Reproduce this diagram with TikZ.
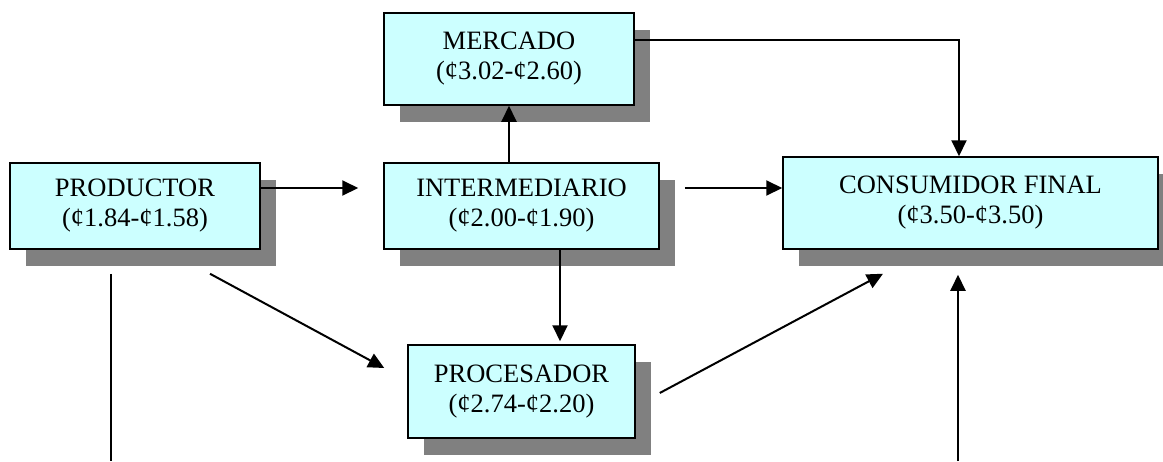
\documentclass[tikz,border=0pt]{standalone}
\usepackage{fontspec}
\setmainfont{Liberation Serif}
\usetikzlibrary{shadows,arrows.meta,calc}
\definecolor{boxfill}{RGB}{204,255,255}
\definecolor{shadowgray}{RGB}{128,128,128}
\begin{document}
\begin{tikzpicture}[x=0.5pt,y=-0.5pt,
  stage/.style={draw=black, line width=0.75pt, fill=boxfill, inner sep=0pt,
    align=center, font=\fontsize{13.25pt}{15pt}\selectfont,
    drop shadow={shadow xshift=8pt, shadow yshift=-8.5pt, fill=shadowgray, opacity=1}},
  arr/.style={line width=1pt, -{Triangle[length=8pt,width=7.5pt]}},
  link/.style={line width=0.8pt}]
\useasboundingbox (0,0) rectangle (1163,461);

% stages of the chain
\node[stage, minimum width=125pt, minimum height=46pt] (merc) at (509,59)
  {MERCADO\\(¢3.02-¢2.60)};
\node[stage, minimum width=125pt, minimum height=43pt] (prod) at (135,206)
  {PRODUCTOR\\(¢1.84-¢1.58)};
\node[stage, minimum width=137.5pt, minimum height=43pt] (inter) at (521.5,206)
  {INTERMEDIARIO\\(¢2.00-¢1.90)};
\node[stage, minimum width=187.5pt, minimum height=46pt] (cons) at (970.5,203)
  {CONSUMIDOR FINAL\\(¢3.50-¢3.50)};
\node[stage, minimum width=113.5pt, minimum height=46.5pt] (proc) at (521.5,391.5)
  {PROCESADOR\\(¢2.74-¢2.20)};

% open ends at the lower edge
\coordinate (prodout) at (111,461);
\coordinate (consin) at (958,461);

% flows between stages
\draw[arr, shorten >=12.5pt] ([yshift=9pt]prod.east) -- ([yshift=9pt]inter.west);
\draw[arr, shorten <=12.5pt] ([yshift=9pt]inter.east) -- ([yshift=9pt]inter.east -| cons.west);
\draw[arr] (inter.north -| merc.south) -- (merc.south);
\draw[arr] ([yshift=9.5pt]merc.east) -| ([xshift=-5.75pt]cons.north);
\draw[arr, shorten >=1.5pt] ([xshift=19.25pt]proc.north |- inter.south) -- ([xshift=19.25pt]proc.north);
\draw[arr] ([shift={(75,24)}]prod.south) -- ([shift={(-23,-23.5)}]proc.west);
\draw[arr] ([shift={(24,1.5)}]proc.east) -- ([shift={(-87.5,24)}]cons.south);
\draw[link] ([shift={(-24,24)}]prod.south) -- (prodout);
\draw[arr] (consin) -- ([shift={(-12.5,25)}]cons.south);
\end{tikzpicture}
\end{document}
